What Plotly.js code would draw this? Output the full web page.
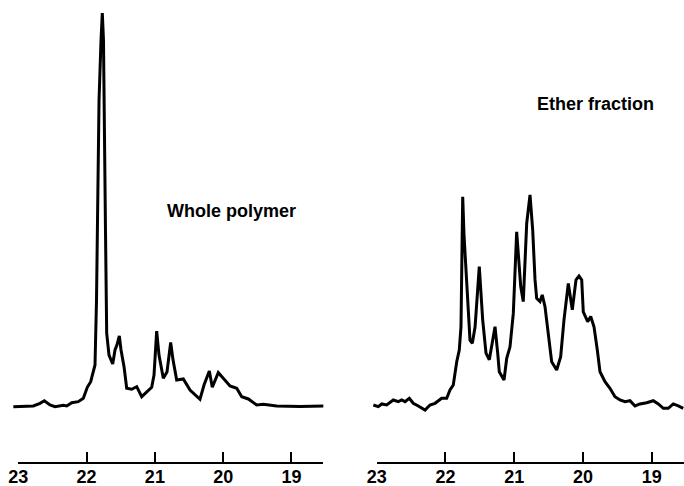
<!DOCTYPE html>
<html>
<head>
<meta charset="utf-8">
<script src="https://cdn.plot.ly/plotly-3.0.1.min.js"></script>
<style>html,body{margin:0;padding:0;background:#fff;}#chart{width:684px;height:486px;}</style>
</head>
<body>
<div id="chart"></div>
<script>
// Chemical shift (ppm) and intensity, whole polymer
const wholePpm = [23.073,22.780,22.682,22.619,22.536,22.463,22.341,22.291,22.218,22.122,22.048,21.990,21.940,21.877,21.855,21.840,21.818,21.789,21.770,21.753,21.741,21.723,21.706,21.672,21.618,21.584,21.555,21.521,21.496,21.452,21.413,21.340,21.266,21.193,21.047,21.013,20.974,20.940,20.877,20.823,20.769,20.735,20.681,20.584,20.486,20.340,20.281,20.203,20.160,20.072,19.999,19.900,19.802,19.729,19.632,19.510,19.413,19.217,18.876,18.534];
const wholeInt = [0,0.18,0.86,1.52,0.43,0,0.36,0.18,1.02,1.27,2.13,4.93,6.35,10.6,27.1,52.5,77.9,93.1,100,93.1,77.9,44.1,18.7,13.1,10.85,14.4,15.7,17.96,14.4,10.16,4.67,4.42,5.08,2.54,4.93,8.05,19.2,13.1,7.21,8.8,16.3,11.9,6.78,7.04,4.24,1.88,5.51,9.07,4.93,8.64,7.21,5.26,4.67,2.54,1.96,0.43,0.61,0.18,0.05,0.18];

// Chemical shift (ppm) and intensity, ether fraction
const etherPpm = [23.049,22.977,22.927,22.855,22.759,22.686,22.636,22.588,22.526,22.468,22.395,22.297,22.225,22.152,22.055,21.982,21.934,21.886,21.836,21.799,21.774,21.749,21.730,21.682,21.643,21.609,21.569,21.508,21.458,21.410,21.362,21.313,21.279,21.240,21.217,21.148,21.109,21.061,21.013,20.964,20.905,20.868,20.818,20.770,20.731,20.697,20.673,20.625,20.592,20.552,20.504,20.455,20.382,20.324,20.276,20.213,20.155,20.101,20.057,20.018,19.995,19.931,19.887,19.839,19.791,19.752,19.679,19.607,19.534,19.461,19.388,19.316,19.243,19.170,19.073,18.977,18.904,18.831,18.759,18.686,18.613,18.541];
const etherInt = [0.43,0,0.69,0.43,1.70,1.27,1.70,1.27,2.13,0.86,0.18,-0.84,0.43,0.86,2.13,2.13,4.24,5.51,11.43,14.4,20.32,53.34,43.6,29.6,16.9,16.1,20.3,35.6,22.0,13.6,11.9,16.9,20.3,13.6,8.89,6.78,12.3,15.2,23.7,44.4,30.5,26.7,46.6,53.8,44.9,32.2,27.5,26.7,28.4,25.4,18.6,11.4,9.32,12.7,22.0,31.3,24.6,32.2,33.2,32.2,24.1,21.6,22.9,20.3,14.4,8.89,6.35,4.67,2.54,1.70,1.27,1.52,0.18,0.69,1.02,1.52,0.69,-0.41,-0.41,0.69,0.18,-0.41];

const tickVals = [23, 22, 21, 20, 19];
const tickText = ['23', '22', '21', '20', '19'];
const panelLabels = ['Whole polymer', 'Ether fraction'];

const W = 684, H = 486;
const px = v => v / W;
const py = v => (H - v) / H;

const lineStyle = {color: '#000', width: 3};
const traces = [
  {x: wholePpm, y: wholeInt, xaxis: 'x', yaxis: 'y', mode: 'lines', line: lineStyle, hoverinfo: 'skip'},
  {x: etherPpm, y: etherInt, xaxis: 'x2', yaxis: 'y2', mode: 'lines', line: lineStyle, hoverinfo: 'skip'},
  {x: [], y: [], xaxis: 'x3', yaxis: 'y', mode: 'lines', hoverinfo: 'skip'},
  {x: [], y: [], xaxis: 'x4', yaxis: 'y2', mode: 'lines', hoverinfo: 'skip'}
];

const yRange = [-14.05, 103.3];
const yDom = [py(462), 1];
const hiddenX = {visible: false, fixedrange: true};
const tickFont = {family: 'Liberation Sans, Arial, sans-serif', size: 18, weight: 'bold', color: '#000'};
const visibleX = {
  showline: true, linecolor: '#000', linewidth: 2,
  ticks: 'inside', ticklen: 10, tickwidth: 2, tickcolor: '#000',
  tickvals: tickVals, ticktext: tickText, tickfont: tickFont,
  ticklabelstandoff: -3,
  showgrid: false, zeroline: false, fixedrange: true
};

const layout = {
  width: W, height: H,
  margin: {l: 0, r: 0, t: 0, b: 0},
  paper_bgcolor: '#fff', plot_bgcolor: 'rgba(0,0,0,0)',
  showlegend: false,
  xaxis: Object.assign({domain: [0, px(340)], range: [23.268, 18.290], anchor: 'y'}, hiddenX),
  xaxis2: Object.assign({domain: [px(340), 1], range: [23.534, 18.530], anchor: 'y2'}, hiddenX),
  xaxis3: Object.assign({domain: [px(18.3), px(323.3)], range: [23, 18.534], anchor: 'y'}, visibleX),
  xaxis4: Object.assign({domain: [px(376.7), 1], range: [23, 18.530], anchor: 'y2'}, visibleX),
  yaxis: {domain: yDom, range: yRange, visible: false, anchor: 'x', fixedrange: true},
  yaxis2: {domain: yDom, range: yRange, visible: false, anchor: 'x2', fixedrange: true},
  annotations: [
    {text: panelLabels[0], xref: 'paper', yref: 'paper', x: px(165), y: py(211), xanchor: 'left', yanchor: 'middle', showarrow: false,
     font: {family: 'Liberation Sans, Arial, sans-serif', size: 18, weight: 'bold', color: '#000'}},
    {text: panelLabels[1], xref: 'paper', yref: 'paper', x: px(535), y: py(104), xanchor: 'left', yanchor: 'middle', showarrow: false,
     font: {family: 'Liberation Sans, Arial, sans-serif', size: 18, weight: 'bold', color: '#000'}}
  ]
};

Plotly.newPlot('chart', traces, layout, {staticPlot: true, displayModeBar: false});
</script>
</body>
</html>
